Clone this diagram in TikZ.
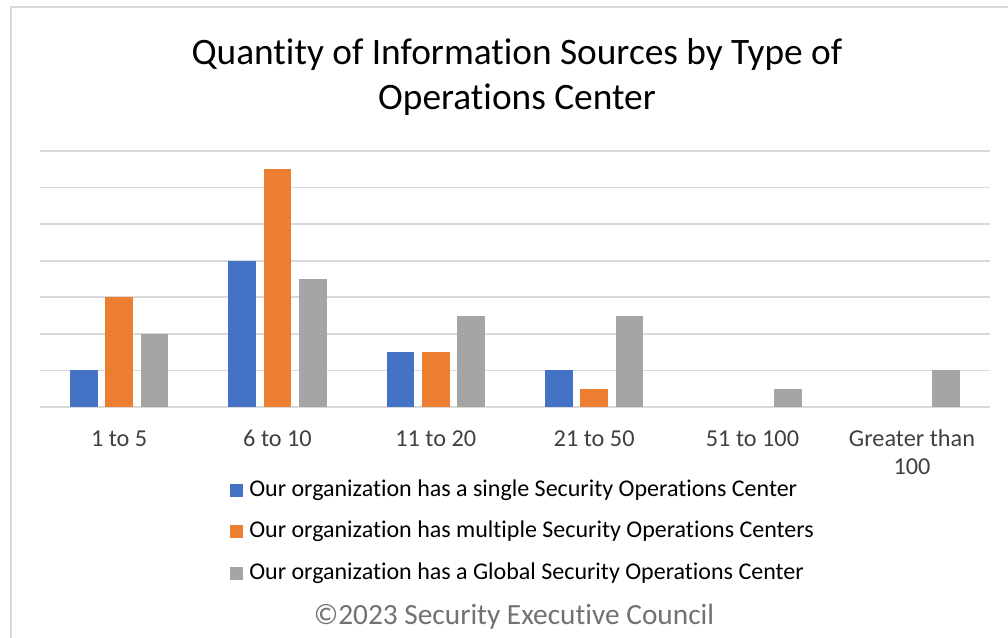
\documentclass[tikz,border=0pt]{standalone}
\usepackage{fontspec}
\setmainfont{Carlito}[Ligatures={NoCommon}]
\definecolor{sblue}{HTML}{4472C4}
\definecolor{sorange}{HTML}{ED7D31}
\definecolor{sgray}{HTML}{A5A5A5}
\definecolor{gridc}{HTML}{D9D9D9}
\definecolor{framec}{HTML}{D9D9D9}
\definecolor{txt}{HTML}{404040}
\definecolor{copyc}{HTML}{767171}
\tikzset{
  gridline/.style={draw=gridc, line width=1.2pt},
  barblue/.style={fill=sblue},
  barorange/.style={fill=sorange},
  bargray/.style={fill=sgray},
  axislabel/.style={font=\fontsize{18.2}{21.5}\selectfont, text=txt, align=center, inner sep=0pt},
  legtext/.style={font=\fontsize{18}{21}\selectfont, text=black, anchor=west, inner sep=0pt},
  legkey/.style={minimum size=9.75pt, inner sep=0pt},
}
\newcommand{\chartbar}[4]{% group, series, value, style
  \pgfmathsetmacro{\xc}{119.17+158.33*#1+35.3*(#2-2)}
  \fill[#4] ({\xc-13.75},407) rectangle ({\xc+13.75},{407-36.57*#3});
}
\begin{document}
\begin{tikzpicture}[x=0.75pt,y=-0.75pt]
\useasboundingbox (0,0) rectangle (1008,638);
\fill[white] (0,0) rectangle (1008,638);
\draw[draw=framec, line width=1.5pt] (11,638) -- (11,7) -- (1008,7);
% title
\node[font=\fontsize{28}{34}\selectfont, align=center, inner sep=0pt] (title) at (517,77)
  {Quantity of Information Sources by Type of\\Operations Center};
% grid
\foreach \i in {0,...,7} {
  \draw[gridline] (40,{407-36.57*\i}) -- (990,{407-36.57*\i});
}
% bars
\chartbar{0}{1}{1}{barblue}
\chartbar{0}{2}{3}{barorange}
\chartbar{0}{3}{2}{bargray}
\chartbar{1}{1}{4}{barblue}
\chartbar{1}{2}{6.5}{barorange}
\chartbar{1}{3}{3.5}{bargray}
\chartbar{2}{1}{1.5}{barblue}
\chartbar{2}{2}{1.5}{barorange}
\chartbar{2}{3}{2.5}{bargray}
\chartbar{3}{1}{1}{barblue}
\chartbar{3}{2}{0.5}{barorange}
\chartbar{3}{3}{2.5}{bargray}
\chartbar{4}{3}{0.5}{bargray}
\chartbar{5}{3}{1}{bargray}
% axis labels
\node[axislabel, anchor=base] (c1) at (119.17,446) {1 to 5};
\node[axislabel, anchor=base] (c2) at (277.5,446) {6 to 10};
\node[axislabel, anchor=base] (c3) at (435.83,446) {11 to 20};
\node[axislabel, anchor=base] (c4) at (594.17,446) {21 to 50};
\node[axislabel, anchor=base] (c5) at (752.5,446) {51 to 100};
\node[axislabel, anchor=north] (c6) at (912,429) {Greater than\\100};
% legend
\node[legkey, fill=sblue] (k1) at (236,490) {};
\node[legtext] (l1) at (249,490) {Our organization has a single Security Operations Center};
\node[legkey, fill=sorange] (k2) at (236,531) {};
\node[legtext] (l2) at (249,531) {Our organization has multiple Security Operations Centers};
\node[legkey, fill=sgray] (k3) at (236,573) {};
\node[legtext] (l3) at (249,573) {Our organization has a Global Security Operations Center};
% copyright
\node[font=\fontsize{22}{26}\selectfont, text=copyc, inner sep=0pt] (copy) at (514,617) {©2023 Security Executive Council};
\end{tikzpicture}
\end{document}
